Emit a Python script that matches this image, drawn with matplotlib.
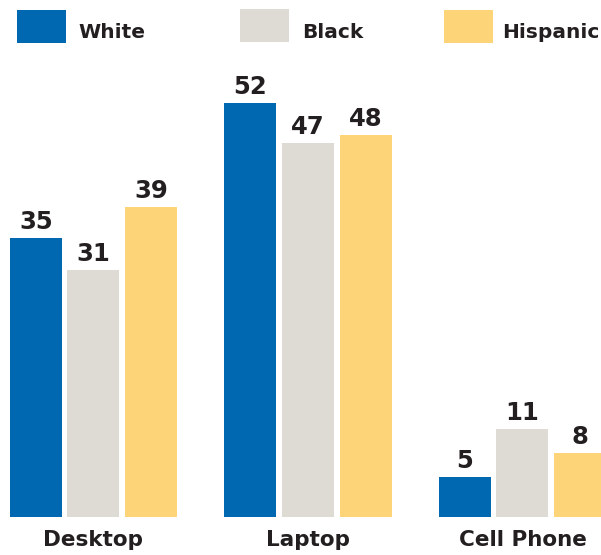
import matplotlib
matplotlib.use("Agg")
import matplotlib.pyplot as plt
from matplotlib.patches import Rectangle
import numpy as np

categories = ["Desktop", "Laptop", "Cell Phone"]
series = ["White", "Black", "Hispanic"]
white = [35, 52, 5]
black = [31, 47, 11]
hispanic = [39, 48, 8]
colors = ["#0068B0", "#DEDAD4", "#FED479"]
text_color = "#231F20"

W, H = 601, 555
fig = plt.figure(figsize=(W / 100, H / 100), dpi=100)
ax = fig.add_axes([0, (H - 517) / H, 1, 517 / H])

step = 57.5 / 214.5
bw = 52 / 214.5
x = np.arange(len(categories))
for i, (vals, c) in enumerate(zip([white, black, hispanic], colors)):
    pos = x + (i - 1) * step
    ax.bar(pos, vals, width=bw, color=c, linewidth=0)
    for p, v in zip(pos, vals):
        ax.text(p, v + 0.5, str(v), ha="center", va="bottom", fontsize=17.5,
                fontweight="bold", color=text_color)

ax.set_xlim(-93.5 / 214.5, (601 - 93.5) / 214.5)
ax.set_ylim(0, 517 / 7.96)
ax.axis("off")

for xi, cat in zip(x, categories):
    ax.text(xi, -2.9, cat, ha="center", va="center", fontsize=15.5,
            fontweight="bold", color=text_color, clip_on=False)

# legend
legend_boxes = [(17, 10), (240, 9), (444, 10)]
legend_text_x = [78, 302, 502]
for (lx, ly), tx, name, c in zip(legend_boxes, legend_text_x, series, colors):
    fig.add_artist(Rectangle((lx / W, 1 - (ly + 33) / H), 49 / W, 33 / H,
                             transform=fig.transFigure, color=c, linewidth=0))
    fig.text(tx / W, 1 - 32 / H, name, ha="left", va="center", fontsize=14.5,
             fontweight="bold", color=text_color)

fig.savefig("out.png", dpi=100)
